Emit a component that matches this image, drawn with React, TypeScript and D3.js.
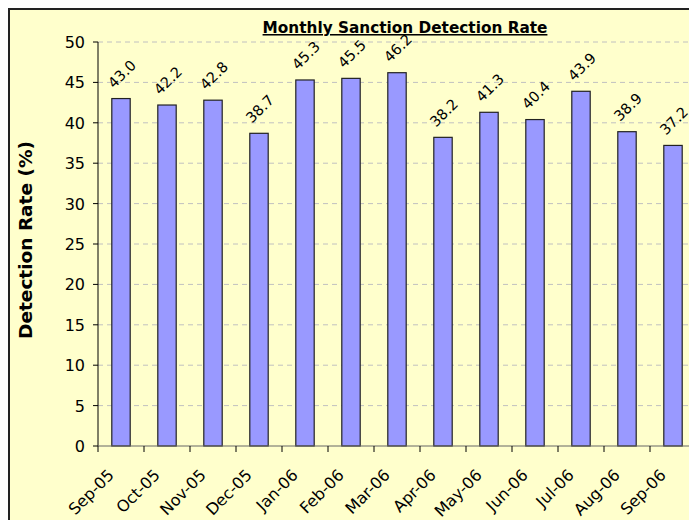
import * as React from 'react';
import * as d3 from 'd3';

// chart data
const months = [
  'Sep-05', 'Oct-05', 'Nov-05', 'Dec-05', 'Jan-06', 'Feb-06', 'Mar-06',
  'Apr-06', 'May-06', 'Jun-06', 'Jul-06', 'Aug-06', 'Sep-06',
];
const detectionRate = [43.0, 42.2, 42.8, 38.7, 45.3, 45.5, 46.2, 38.2, 41.3, 40.4, 43.9, 38.9, 37.2];
const yTicks = [0, 5, 10, 15, 20, 25, 30, 35, 40, 45, 50];

const FONT = 'Verdana, "DejaVu Sans", sans-serif';

export default function App() {
  const ref = React.useRef<SVGSVGElement | null>(null);

  React.useEffect(() => {
    if (!ref.current) return;
    const svg = d3.select(ref.current);
    svg.selectAll('*').remove();

    // page coordinates, shifted by body margin
    const g = svg.append('g').attr('transform', 'translate(-8,-8)');

    const left = 98;
    const right = 696;
    const top = 42;
    const bottom = 446;

    g.append('rect')
      .attr('x', 9)
      .attr('y', 9)
      .attr('width', 900)
      .attr('height', 700)
      .attr('fill', '#FFFFCC')
      .attr('stroke', '#222')
      .attr('stroke-width', 2);

    const x = d3.scaleBand<string>().domain(months).range([left, right]).paddingInner(0.6).paddingOuter(0.3);
    const y = d3.scaleLinear().domain([0, 50]).range([bottom, top]);

    // gridlines
    g.append('g')
      .selectAll('line')
      .data(yTicks.filter((t) => t > 0))
      .enter()
      .append('line')
      .attr('x1', left)
      .attr('x2', right + 10)
      .attr('y1', (d) => y(d))
      .attr('y2', (d) => y(d))
      .attr('stroke', '#c0c0c0')
      .attr('stroke-dasharray', '5,4');

    // bars
    const data = months.map((m, i) => ({ m, v: detectionRate[i] }));
    g.append('g')
      .selectAll('rect')
      .data(data)
      .enter()
      .append('rect')
      .attr('x', (d) => x(d.m) ?? 0)
      .attr('width', x.bandwidth())
      .attr('y', (d) => y(d.v))
      .attr('height', (d) => bottom - y(d.v))
      .attr('fill', '#9999FF')
      .attr('stroke', '#222')
      .attr('stroke-width', 1.2);

    // data labels
    g.append('g')
      .selectAll('text')
      .data(data)
      .enter()
      .append('text')
      .attr('transform', (d) => {
        const cx = (x(d.m) ?? 0) + x.bandwidth() / 2;
        return `translate(${cx + 4.5},${y(d.v) - 21}) rotate(-45)`;
      })
      .attr('text-anchor', 'middle')
      .style('font-family', FONT)
      .style('font-size', '14.5px')
      .attr('fill', '#000')
      .text((d) => d.v.toFixed(1));

    // y axis
    const yAxis = g.append('g');
    yAxis.append('line')
      .attr('x1', left).attr('x2', left)
      .attr('y1', top).attr('y2', bottom)
      .attr('stroke', '#000');
    yAxis.selectAll('line.tick')
      .data(yTicks)
      .enter()
      .append('line')
      .attr('class', 'tick')
      .attr('x1', left - 5).attr('x2', left)
      .attr('y1', (d) => y(d)).attr('y2', (d) => y(d))
      .attr('stroke', '#000');
    yAxis.selectAll('text')
      .data(yTicks)
      .enter()
      .append('text')
      .attr('x', left - 13)
      .attr('y', (d) => y(d))
      .attr('dy', '0.38em')
      .attr('text-anchor', 'end')
      .style('font-family', FONT)
      .style('font-size', '16px')
      .text((d) => String(d));

    // x axis
    const xAxis = g.append('g');
    xAxis.append('line')
      .attr('x1', left).attr('x2', right + 10)
      .attr('y1', bottom).attr('y2', bottom)
      .attr('stroke', '#666');
    const edges = months.map((m) => (x(m) ?? 0) - (x.step() - x.bandwidth()) / 2);
    edges.push(right);
    xAxis.selectAll('line.tick')
      .data(edges)
      .enter()
      .append('line')
      .attr('class', 'tick')
      .attr('x1', (d) => d).attr('x2', (d) => d)
      .attr('y1', bottom).attr('y2', bottom + 6)
      .attr('stroke', '#000');
    xAxis.selectAll('text')
      .data(months)
      .enter()
      .append('text')
      .attr('transform', (m) => {
        const cx = (x(m) ?? 0) + x.bandwidth() / 2;
        return `translate(${cx - 6},${bottom + 30}) rotate(-45)`;
      })
      .attr('text-anchor', 'end')
      .style('font-family', FONT)
      .style('font-size', '16px')
      .text((m) => m);

    // axis title
    g.append('text')
      .attr('transform', 'translate(31.5,240) rotate(-90)')
      .attr('text-anchor', 'middle')
      .style('font-family', FONT)
      .style('font-size', '18.5px')
      .style('font-weight', 'bold')
      .text('Detection Rate (%)');

    // chart title
    g.append('text')
      .attr('x', 405)
      .attr('y', 33)
      .attr('text-anchor', 'middle')
      .style('font-family', FONT)
      .style('font-size', '15.3px')
      .style('font-weight', 'bold')
      .style('text-decoration', 'underline')
      .text('Monthly Sanction Detection Rate');
  }, []);

  return (
    <>
      <style>{'html,body{overflow:hidden}'}</style>
      <svg ref={ref} width={689} height={512} style={{ display: 'block' }} />
    </>
  );
}
